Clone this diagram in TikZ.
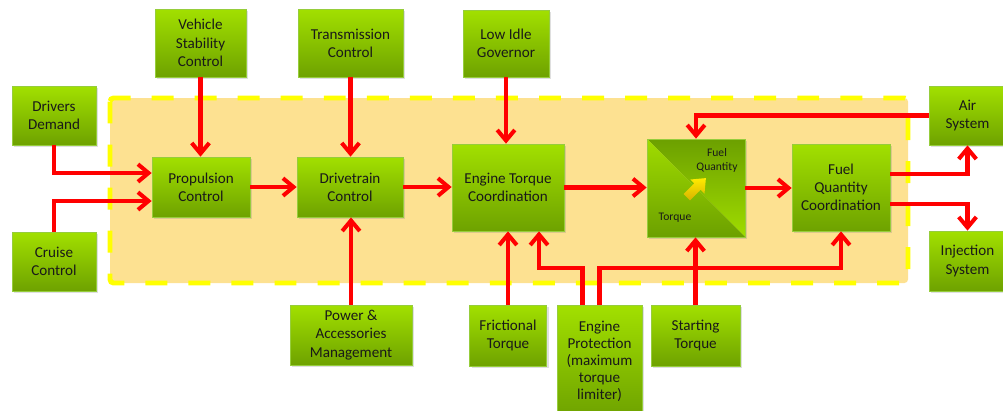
\documentclass[tikz,border=0pt]{standalone}
\usepackage{fontspec}
\setmainfont{Carlito}
\usetikzlibrary{positioning,arrows.meta,calc,shadows}

\definecolor{blocktop}{RGB}{162,224,0}
\definecolor{blockbot}{RGB}{110,162,0}
\definecolor{blockedge}{RGB}{150,205,60}
\definecolor{convdark}{RGB}{108,160,0}
\definecolor{convlight}{RGB}{160,220,0}
\definecolor{zonefill}{RGB}{253,225,145}
\definecolor{zonedash}{RGB}{255,255,0}
\definecolor{flowred}{RGB}{255,0,0}
\definecolor{tiptop}{RGB}{255,235,0}
\definecolor{tipbot}{RGB}{215,178,0}

\begin{document}
\begin{tikzpicture}[
  x=0.02cm, y=-0.02cm,
  font=\fontsize{8.6}{10.4}\selectfont,
  boxsize/.style 2 args={minimum width=#1*0.02cm, minimum height=#2*0.02cm},
  block/.style={draw=blockedge, line width=0.4pt, top color=blocktop,
                bottom color=blockbot, text=black!90, align=center, inner sep=1pt,
                drop shadow={shadow xshift=1.2pt, shadow yshift=-1.2pt, opacity=0.25}},
  convlabel/.style={font=\fontsize{6.6}{8}\selectfont, text=black!90, align=center},
  flow/.style={draw=flowred, line width=2.3pt,
               -{Straight Barb[length=6pt, width=10pt]}},
]
  \useasboundingbox (0,0) rectangle (1003,410);

  % engine control zone
  \draw[zonedash, fill=zonefill, line width=2.8pt, dash pattern=on 12.5pt off 12pt,
        rounded corners=2pt] (110,98) rectangle (908,283);

  \node[block, boxsize={84}{59}] (dd) at (54,115.5) {Drivers\\Demand};
  \node[block, boxsize={84}{59}] (cc) at (54,261.5) {Cruise\\Control};
  \node[block, boxsize={91}{68}] (vsc) at (200.5,43) {Vehicle\\Stability\\Control};
  \node[block, boxsize={105}{68}] (trans) at (350.5,43) {Transmission\\Control};
  \node[block, boxsize={86}{67}] (lig) at (506,43.5) {Low Idle\\Governor};

  \node[block, boxsize={98}{60}] (prop) at (201,187) {Propulsion\\Control};
  \node[block, boxsize={106}{60}] (drive) at (350,187) {Drivetrain\\Control};
  \node[block, boxsize={112}{87}] (etc) at (508,187.5) {Engine Torque\\Coordination};
  \node[draw=blockedge, line width=0.4pt, boxsize={98}{98},
        drop shadow={shadow xshift=1.2pt, shadow yshift=-1.2pt, opacity=0.25},
        path picture={
          \shade[top color=convdark, bottom color=convlight]
            (path picture bounding box.north west) -- (path picture bounding box.north east)
            -- (path picture bounding box.south east) -- cycle;
          \shade[top color=convlight, bottom color=convdark]
            (path picture bounding box.north west) -- (path picture bounding box.south west)
            -- (path picture bounding box.south east) -- cycle;
        }] (conv) at (696,188) {};
  % torque-to-fuel arrow
  \shade[top color=tiptop, bottom color=tipbot, shift={(conv.center)}, rotate=45]
    (-13,-4.5) -- (2,-4.5) -- (2,-10) -- (14,0) -- (2,10) -- (2,4.5) -- (-13,4.5) -- cycle;
  \node[convlabel] (fuelq) at (717,160) {Fuel\\Quantity};
  \node[convlabel] (torq) at (675,218) {Torque};
  \node[block, boxsize={98}{87}] (fqc) at (841,187.5) {Fuel\\Quantity\\Coordination};

  \node[block, boxsize={77}{59}] (air) at (967.5,115.5) {Air\\System};
  \node[block, boxsize={77}{60}] (inj) at (967.5,261) {Injection\\System};

  \node[block, boxsize={122}{60}] (pam) at (351,335) {Power \&\\Accessories\\Management};
  \node[block, boxsize={77}{61}] (fric) at (508,335.5) {Frictional\\Torque};
  \node[block, boxsize={85}{112}, font=\fontsize{8.6}{9.7}\selectfont] (ep) at (599.5,361)
        {Engine\\Protection\\(maximum\\torque\\limiter)};
  \node[block, boxsize={89}{61}] (start) at (695.5,335.5) {Starting\\Torque};

  % signal flow
  \draw[flow] (dd.south) |- ($(prop.west)+(0,-14)$);
  \draw[flow] (cc.north) |- ($(prop.west)+(0,14)$);
  \draw[flow] (vsc.south) -- (vsc.south |- prop.north);
  \draw[flow] (trans.south) -- (trans.south |- drive.north);
  \draw[flow] (pam.north) -- (pam.north |- drive.south);
  \draw[flow] (prop.east) -- (drive.west);
  \draw[flow] (drive.east) -- (drive.east -| etc.west);
  \draw[flow] (lig.south) -- (lig.south |- etc.north);
  \draw[flow] (etc.east) -- (etc.east -| conv.west);
  \draw[flow] (fric.north) -- (fric.north |- etc.south);
  \draw[flow] ($(ep.north)+(-17,0)$) -- ++(0,-37) -| ($(etc.south)+(31,0)$);
  \draw[flow] (ep.north) -- ++(0,-37) -| (fqc.south);
  \draw[flow] (start.north) -- (start.north |- conv.south);
  \draw[flow] (conv.east) -- (conv.east -| fqc.west);
  \draw[flow] (air.west) -| (conv.north);
  \draw[flow] ($(fqc.east)+(0,-13.5)$) -| (air.south);
  \draw[flow] ($(fqc.east)+(0,16.5)$) -| (inj.north);
\end{tikzpicture}
\end{document}
